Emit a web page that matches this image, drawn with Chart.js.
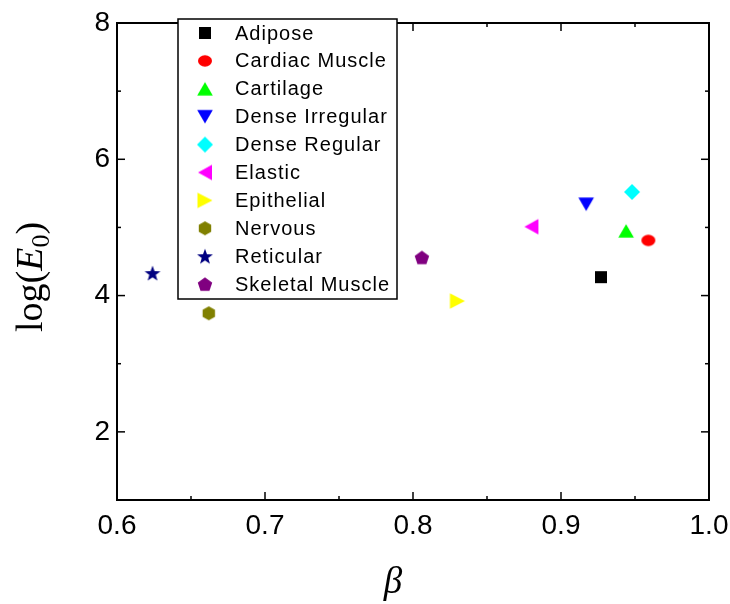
<!DOCTYPE html>
<html>
<head>
<meta charset="utf-8">
<script src="https://cdn.jsdelivr.net/npm/chart.js@4.4.0/dist/chart.umd.min.js"></script>
<style>
  html, body { margin: 0; padding: 0; background: #fff; }
  canvas { display: block; }
</style>
</head>
<body>
<canvas id="scatter" width="730" height="604"></canvas>
<script>
// Tissue types with fitted beta and log(E0)
const tissues = ['Adipose', 'Cardiac Muscle', 'Cartilage', 'Dense Irregular', 'Dense Regular',
                 'Elastic', 'Epithelial', 'Nervous', 'Reticular', 'Skeletal Muscle'];
const betaValues = [0.927, 0.959, 0.944, 0.917, 0.948, 0.880, 0.830, 0.662, 0.624, 0.806];
const logE0Values = [4.27, 4.81, 4.95, 5.34, 5.52, 5.01, 3.92, 3.74, 4.33, 4.56];

const xTicks = [0.6, 0.7, 0.8, 0.9, 1.0];
const xMinorTicks = [0.65, 0.75, 0.85, 0.95];
const yTicks = [2, 4, 6, 8];
const yMinorTicks = [3, 5, 7];

const markerColors = ['#000000', '#ff0000', '#00ff00', '#0000ff', '#00ffff',
                      '#ff00ff', '#ffff00', '#808000', '#000080', '#800080'];
const markerShapes = ['square', 'ellipse', 'triUp', 'triDown', 'diamond',
                      'triLeft', 'triRight', 'hexagon', 'star', 'pentagon'];

const sansFont = "'Liberation Sans', Arial, Helvetica, sans-serif";
const serifFont = "'Liberation Serif', 'Times New Roman', serif";

function polyPath(g, pts) {
    g.moveTo(pts[0][0], pts[0][1]);
    for (let i = 1; i < pts.length; i++) g.lineTo(pts[i][0], pts[i][1]);
    g.closePath();
}

// regular polygon / star, shifted so the bounding box is centred
function radialPath(g, n, rOuter, rInner) {
    const shift = rOuter * (1 - Math.cos(Math.PI / n)) / 2;
    const pts = [];
    const steps = rInner ? n * 2 : n;
    for (let i = 0; i < steps; i++) {
        const a = -Math.PI / 2 + i * Math.PI * 2 / steps;
        const r = (rInner && i % 2 === 1) ? rInner : rOuter;
        pts.push([r * Math.cos(a), r * Math.sin(a) + shift]);
    }
    polyPath(g, pts);
}

function makeMarker(shape, color) {
    const c = document.createElement('canvas');
    c.width = 20;
    c.height = 20;
    const g = c.getContext('2d');
    g.translate(10, 10);
    g.fillStyle = color;
    g.beginPath();
    switch (shape) {
        case 'square': g.rect(-6, -6, 12, 12); break;
        case 'ellipse': g.ellipse(0, 0, 7, 5.7, 0, 0, Math.PI * 2); break;
        case 'triUp': polyPath(g, [[0, -6.7], [7.8, 6.7], [-7.8, 6.7]]); break;
        case 'triDown': polyPath(g, [[0, 6.7], [7.8, -6.7], [-7.8, -6.7]]); break;
        case 'diamond': polyPath(g, [[0, -8], [8, 0], [0, 8], [-8, 0]]); break;
        case 'triLeft': polyPath(g, [[-7, 0], [7, -7.8], [7, 7.8]]); break;
        case 'triRight': polyPath(g, [[7.5, 0], [-7.5, -7.8], [-7.5, 7.8]]); break;
        case 'hexagon': polyPath(g, [[0, -7], [6.2, -3.5], [6.2, 3.5], [0, 7], [-6.2, 3.5], [-6.2, -3.5]]); break;
        case 'star': radialPath(g, 5, 8.4, 3.4); break;
        case 'pentagon': radialPath(g, 5, 7.6); break;
    }
    g.fill();
    return c;
}

const markers = markerShapes.map((s, i) => makeMarker(s, markerColors[i]));

const datasets = tissues.map((name, i) => ({
    label: name,
    data: [{ x: betaValues[i], y: logE0Values[i] }],
    pointStyle: markers[i],
    pointRadius: 8,
    backgroundColor: markerColors[i],
    borderColor: markerColors[i]
}));

// box frame with inward ticks on all four sides
const framePlugin = {
    id: 'frame',
    afterDraw(chart) {
        const ctx = chart.ctx;
        const { left, right, top, bottom } = chart.chartArea;
        const xs = chart.scales.x, ys = chart.scales.y;
        ctx.save();
        ctx.strokeStyle = '#000';
        ctx.lineWidth = 1.5;
        const seg = (x1, y1, x2, y2) => {
            ctx.beginPath();
            ctx.moveTo(x1, y1);
            ctx.lineTo(x2, y2);
            ctx.stroke();
        };
        xTicks.forEach(v => {
            const p = xs.getPixelForValue(v);
            seg(p, bottom, p, bottom - 8);
            seg(p, top, p, top + 8);
        });
        xMinorTicks.forEach(v => {
            const p = xs.getPixelForValue(v);
            seg(p, bottom, p, bottom - 4);
            seg(p, top, p, top + 4);
        });
        yTicks.forEach(v => {
            const p = ys.getPixelForValue(v);
            seg(left, p, left + 8, p);
            seg(right, p, right - 8, p);
        });
        yMinorTicks.forEach(v => {
            const p = ys.getPixelForValue(v);
            seg(left, p, left + 4, p);
            seg(right, p, right - 4, p);
        });
        ctx.lineWidth = 2;
        ctx.strokeRect(left, top, right - left, bottom - top);

        // axis titles
        ctx.fillStyle = '#000';
        ctx.textBaseline = 'alphabetic';
        ctx.textAlign = 'center';
        ctx.font = `italic 37px ${serifFont}`;
        ctx.fillText('\u03b2', 393, 593);

        const parts = [
            { t: 'log(', f: `38px ${serifFont}`, dy: 0 },
            { t: 'E', f: `italic 38px ${serifFont}`, dy: 0 },
            { t: '0', f: `26px ${serifFont}`, dy: 7 },
            { t: ')', f: `38px ${serifFont}`, dy: 0 }
        ];
        ctx.textAlign = 'left';
        let total = 0;
        parts.forEach(p => { ctx.font = p.f; p.w = ctx.measureText(p.t).width; total += p.w; });
        ctx.translate(42, 277);
        ctx.rotate(-Math.PI / 2);
        let cx = -total / 2;
        parts.forEach(p => {
            ctx.font = p.f;
            ctx.fillText(p.t, cx, p.dy);
            cx += p.w;
        });
        ctx.restore();
    }
};

// boxed legend drawn inside the plot area
const legendPlugin = {
    id: 'boxLegend',
    afterDraw(chart) {
        const ctx = chart.ctx;
        ctx.save();
        ctx.fillStyle = '#fff';
        ctx.fillRect(178, 19, 219, 280);
        ctx.strokeStyle = '#000';
        ctx.lineWidth = 1.5;
        ctx.strokeRect(178, 19, 219, 280);
        ctx.font = `20px ${sansFont}`;
        ctx.letterSpacing = '1px';
        ctx.fillStyle = '#000';
        ctx.textBaseline = 'middle';
        ctx.textAlign = 'left';
        tissues.forEach((name, i) => {
            const y = 33 + i * 27.9;
            const m = markers[i];
            ctx.drawImage(m, 205 - m.width / 2, y - m.height / 2);
            ctx.fillText(name, 235, y + 1);
        });
        ctx.restore();
    }
};

const tickFont = { family: sansFont, size: 28 };

new Chart(document.getElementById('scatter'), {
    type: 'scatter',
    data: { datasets },
    options: {
        responsive: false,
        animation: false,
        events: [],
        layout: { padding: { top: 23, right: 21, left: 0, bottom: 0 } },
        plugins: {
            legend: { display: false },
            tooltip: { enabled: false }
        },
        scales: {
            x: {
                type: 'linear',
                min: 0.6,
                max: 1.0,
                afterBuildTicks: s => { s.ticks = xTicks.map(v => ({ value: v })); },
                afterFit: s => { s.height = 104; s.paddingLeft = 0; s.paddingRight = 0; },
                ticks: {
                    color: '#000',
                    font: tickFont,
                    padding: 9,
                    maxRotation: 0,
                    callback: v => v.toFixed(1)
                },
                grid: { display: false, drawTicks: false },
                border: { display: false }
            },
            y: {
                type: 'linear',
                min: 1,
                max: 8,
                afterBuildTicks: s => { s.ticks = yTicks.map(v => ({ value: v })); },
                afterFit: s => { s.width = 117; s.paddingTop = 0; s.paddingBottom = 0; },
                ticks: {
                    color: '#000',
                    font: tickFont,
                    padding: 7,
                    callback: v => String(v)
                },
                grid: { display: false, drawTicks: false },
                border: { display: false }
            }
        }
    },
    plugins: [framePlugin, legendPlugin]
});
</script>
</body>
</html>
